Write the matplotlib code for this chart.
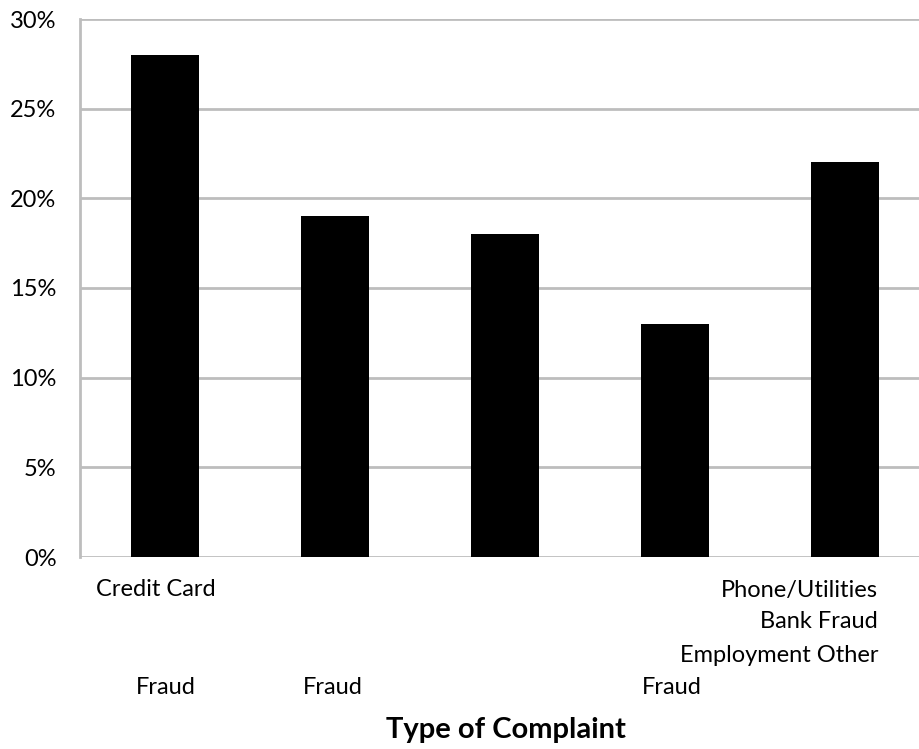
import matplotlib
matplotlib.use("Agg")
import matplotlib.pyplot as plt
from matplotlib.ticker import FuncFormatter

plt.rcParams['font.family'] = ['Lato', 'DejaVu Sans']

categories = ["Credit Card Fraud", "Phone/Utilities Fraud", "Bank Fraud", "Employment Fraud", "Other"]
values = [28, 19, 18, 13, 22]
yticks = [0, 5, 10, 15, 20, 25, 30]
xlabel = "Type of Complaint"

W, H = 919, 749
fig = plt.figure(figsize=(W / 100, H / 100), dpi=100)
ax = fig.add_axes([80 / W, (H - 557) / H, 1 - 80 / W, (557 - 19) / H])

x = list(range(len(values)))
ax.bar(x, values, width=0.4, color="black", zorder=3)
ax.set_ylim(0, 30)
ax.set_xlim(-0.5, -0.5 + 839 / 170)
ax.set_yticks(yticks)
ax.yaxis.set_major_formatter(FuncFormatter(lambda v, p: f"{v:.0f}%"))
ax.tick_params(axis="y", length=0, pad=17, labelsize=17)
ax.set_xticks([])
ax.grid(axis="y", color="#bdbdbd", linewidth=2, zorder=0)
for s in ["top", "right", "bottom"]:
    ax.spines[s].set_visible(False)
ax.spines["left"].set_color("#bdbdbd")
ax.spines["left"].set_linewidth(2)

def fx(px):
    return px / W

def fy(py):
    return 1 - py / H

fs = 17
# garbled category label layout as in the reference
fig.text(fx(156), fy(590), "Credit Card", ha="center", va="center", fontsize=fs)
fig.text(fx(166), fy(688), "Fraud", ha="center", va="center", fontsize=fs)
fig.text(fx(333), fy(688), "Fraud", ha="center", va="center", fontsize=fs)
fig.text(fx(672), fy(688), "Fraud", ha="center", va="center", fontsize=fs)
fig.text(fx(878), fy(590), "Phone/Utilities", ha="right", va="center", fontsize=fs)
fig.text(fx(878), fy(622), "Bank Fraud", ha="right", va="center", fontsize=fs)
fig.text(fx(878), fy(655), "Employment Other", ha="right", va="center", fontsize=fs)
fig.text(fx(506), fy(730), xlabel, ha="center", va="center", fontsize=21, fontweight="bold")

fig.savefig("out.png", dpi=100)
